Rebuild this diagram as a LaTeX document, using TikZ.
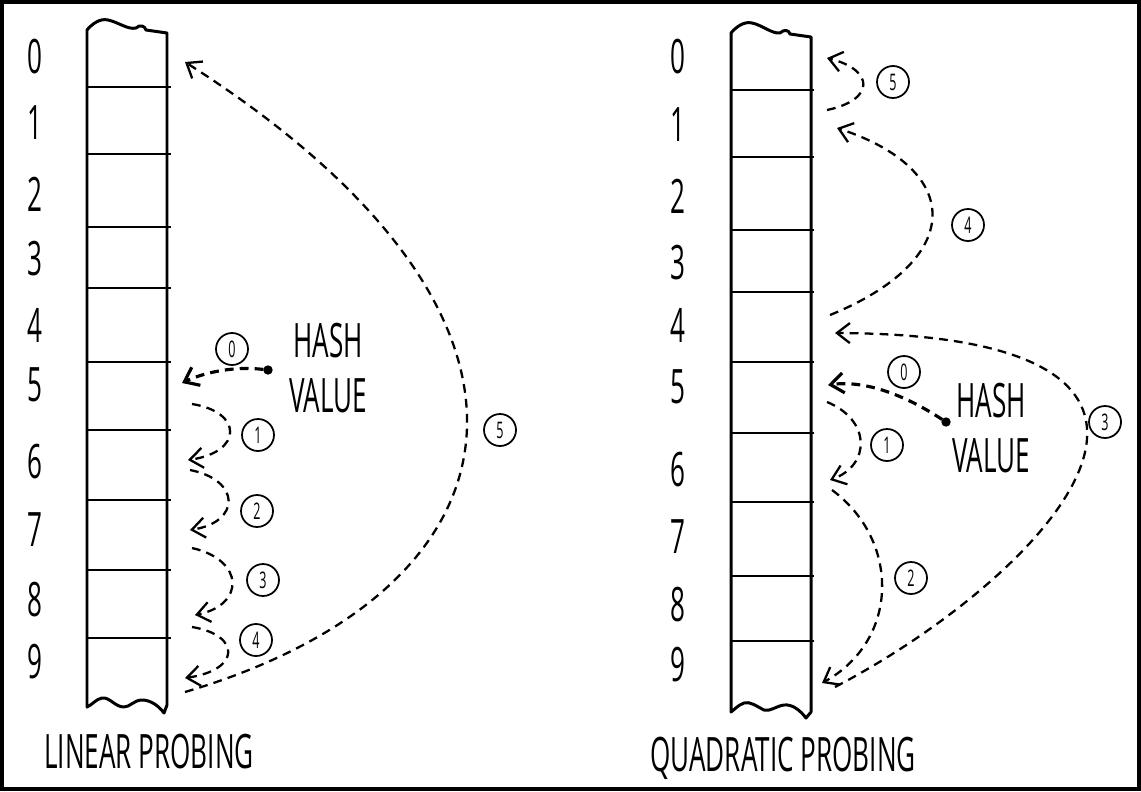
\documentclass[tikz,border=0pt]{standalone}
\usepackage{fontspec}
\usetikzlibrary{arrows.meta}
\newfontfamily\handfont[FakeStretch=0.55]{Open Sans}
\tikzset{
  frame/.style={black,line width=2.2pt},
  outline/.style={black,line width=1.7pt,line join=round},
  divider/.style={black,line width=1.5pt},
  probe/.style={black,line width=1.3pt,dash pattern=on 5pt off 3.5pt,
                -{Straight Barb[length=2.6mm,width=4mm]}},
  firstprobe/.style={probe,line width=1.8pt},
  idx/.style={font=\handfont\fontsize{27}{30}\selectfont,inner sep=0pt},
  caption/.style={font=\handfont\fontsize{27}{30}\selectfont,inner sep=0pt},
  hashtext/.style={font=\handfont\fontsize{27}{31}\selectfont,inner sep=0pt,align=center},
  stepno/.style={circle,draw,line width=1pt,minimum size=0.64cm,inner sep=0pt,
                 font=\handfont\fontsize{13}{14}\selectfont},
  hashdot/.style={circle,draw,fill,line width=1pt,minimum size=0.15cm,inner sep=0pt},
}

\begin{document}
\begin{tikzpicture}[x=0.02cm,y=-0.02cm]
  \path[use as bounding box] (0,0) rectangle (1141,791);
  \draw[frame] (2,2) rectangle (1139,789);

  % linear probing table
  \draw[outline] (87,707) -- (87,30) .. controls (92,24) and (100,18) .. (108,20)
    .. controls (118,22) and (128,30) .. (136,28) .. controls (140,24) and (145,26) .. (146,30)
    -- (167,33) -- (167,705) -- (164,713) .. controls (158,705) and (150,700) .. (142,700)
    .. controls (134,700) and (130,707) .. (124,707) .. controls (115,707) and (110,697) .. (102,698)
    .. controls (96,699) and (92,705) .. (87,707) -- cycle;
  \foreach \y in {87,154,227,288,362,430,500,570,638}
    \draw[divider] (87,\y) -- (171,\y);
  \foreach \i/\y in {0/57,1/123,2/194,3/259,4/325,5/385,6/462,7/530,8/600,9/662}
    \node[idx] (lin\i) at (35,\y) {\i};

  % quadratic probing table
  \draw[outline] (731,712) -- (731,33) .. controls (736,27) and (744,21) .. (752,23)
    .. controls (762,25) and (772,34) .. (780,33) .. controls (784,29) and (789,30) .. (790,34)
    -- (811,37) -- (811,712) -- (806,718) .. controls (800,710) and (792,704) .. (784,705)
    .. controls (776,706) and (770,712) .. (764,710) .. controls (756,706) and (750,701) .. (744,703)
    .. controls (738,705) and (734,710) .. (731,712) -- cycle;
  \foreach \y in {90,157,230,292,362,433,502,576,641}
    \draw[divider] (731,\y) -- (814,\y);
  \foreach \i/\y in {0/57,1/125,2/196,3/263,4/325,5/387,6/470,7/537,8/605,9/665}
    \node[idx] (quad\i) at (678,\y) {\i};

  % linear probes
  \node[hashdot] (hashL) at (268,370) {};
  \node[hashtext] (hashtextL) at (328,368) {HASH\\VALUE};
  \coordinate (L0e) at (182,383);
  \coordinate (L1s) at (192,404); \coordinate (L1e) at (188,460);
  \coordinate (L2s) at (190,470); \coordinate (L2e) at (190,530);
  \coordinate (L3s) at (192,548); \coordinate (L3e) at (195,615);
  \coordinate (L4s) at (192,627); \coordinate (L4e) at (185,678);
  \coordinate (L5s) at (185,692); \coordinate (L5e) at (185,62);
  \draw[firstprobe] (hashL) .. controls (235,366) and (205,372) .. (L0e);
  \draw[probe] (L1s) .. controls (243,412) and (243,452) .. (L1e);
  \draw[probe] (L2s) .. controls (241,480) and (241,522) .. (L2e);
  \draw[probe] (L3s) .. controls (245,560) and (245,605) .. (L3e);
  \draw[probe] (L4s) .. controls (241,635) and (241,670) .. (L4e);
  \draw[probe] (L5s) .. controls (530,590) and (590,320) .. (L5e);
  \node[stepno] (lstep0) at (232,349) {0};
  \node[stepno] (lstep1) at (258,435) {1};
  \node[stepno] (lstep2) at (257,511) {2};
  \node[stepno] (lstep3) at (263,580) {3};
  \node[stepno] (lstep4) at (256,640) {4};
  \node[stepno] (lstep5) at (500,430) {5};

  % quadratic probes
  \node[hashdot] (hashQ) at (946,422) {};
  \node[hashtext] (hashtextQ) at (991,428) {HASH\\VALUE};
  \coordinate (Q0e) at (828,385);
  \coordinate (Q1s) at (827,402); \coordinate (Q1e) at (830,480);
  \coordinate (Q2s) at (832,490); \coordinate (Q2e) at (822,683);
  \coordinate (Q3s) at (835,687); \coordinate (Q3e) at (835,333);
  \coordinate (Q4s) at (830,315); \coordinate (Q4e) at (837,128);
  \coordinate (Q5s) at (827,110); \coordinate (Q5e) at (827,58);
  \draw[firstprobe] (hashQ) .. controls (905,395) and (865,380) .. (Q0e);
  \draw[probe] (Q1s) .. controls (871,420) and (871,465) .. (Q1e);
  \draw[probe] (Q2s) .. controls (900,540) and (900,640) .. (Q2e);
  \draw[probe] (Q3s) .. controls (1040,580) and (1280,335) .. (Q3e);
  \draw[probe] (Q4s) .. controls (965,260) and (965,170) .. (Q4e);
  \draw[probe] (Q5s) .. controls (875,100) and (875,70) .. (Q5e);
  \node[stepno] (qstep0) at (904,372) {0};
  \node[stepno] (qstep1) at (887,445) {1};
  \node[stepno] (qstep2) at (911,578) {2};
  \node[stepno] (qstep3) at (1105,422) {3};
  \node[stepno] (qstep4) at (968,225) {4};
  \node[stepno] (qstep5) at (893,82) {5};

  \node[caption] (linTitle) at (149,752) {LINEAR PROBING};
  \node[caption] (quadTitle) at (783,758) {QUADRATIC PROBING};
\end{tikzpicture}
\end{document}
